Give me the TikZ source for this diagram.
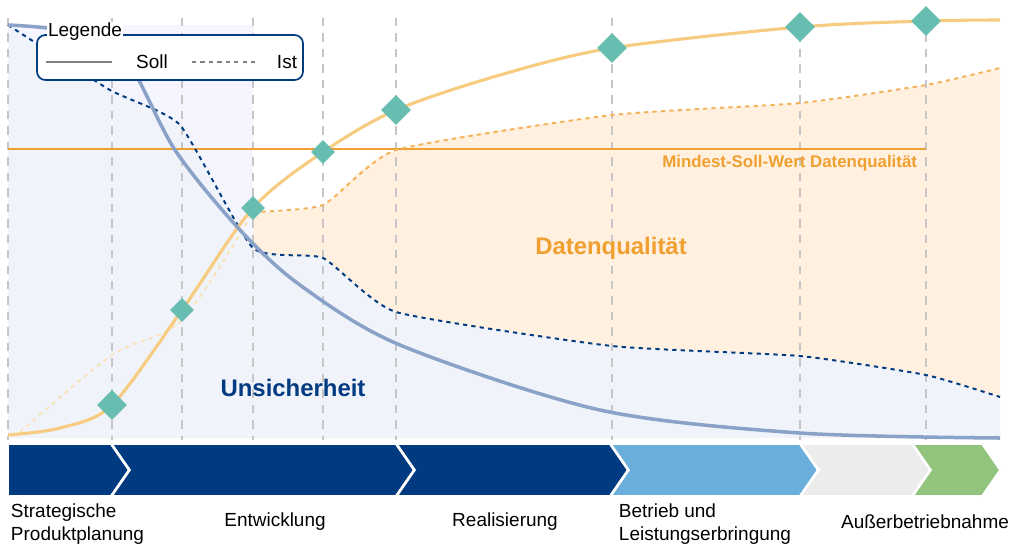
\documentclass[tikz,border=0pt]{standalone}
\usepackage{fontspec}
\setmainfont{Liberation Sans}
\usetikzlibrary{shapes.geometric,positioning}
\definecolor{dunkelblau}{HTML}{003A80}
\definecolor{sollblau}{HTML}{8AA2C8}
\definecolor{orangehell}{HTML}{F7CB80}
\definecolor{orangedunkel}{HTML}{F0A030}
\definecolor{raute}{HTML}{66BDB0}
\definecolor{hellblau}{HTML}{6AAEDC}
\definecolor{gruen}{HTML}{93C47D}

\begin{document}
\begin{tikzpicture}[
          x=0.025cm, y=-0.025cm,
          raster/.style = {gray!45, dashed, dash pattern=on 6pt off 5pt, line width=1.2pt},
          marke/.style = {diamond, fill=raute, minimum size=0.75cm, inner sep=0pt},
          phase/.style = {font=\fontsize{13.5}{16}\selectfont, align=left},
          chev/.style = {draw=white, line width=1.2pt}
        ]
        \useasboundingbox (0,0) rectangle (1024,555);

        % Flaechen
        \fill[blue!4] (8,25) -- (253,25) -- (253,438) -- (8,438) -- cycle;
        \fill[orange!12] plot[smooth] coordinates {(253,212) (323,205) (396,150) (612,115) (800,103) (926,85) (1000,68)}
          -- (1000,438) -- (253,438) -- cycle;
        \fill[green!30!blue!6] plot[smooth, tension=0.3] coordinates {(8,25) (110,90) (180,125) (253,248) (323,258) (396,312) (612,346) (800,356) (926,375) (1000,397)}
          -- (1000,438) -- (8,438) -- cycle;

        % Raster
        \foreach \x in {8,112,182,253,323,396,612,800,926}
          \draw[raster] (\x,18) -- (\x,440);

        % Mindestwert
        \draw[orangedunkel, line width=1.6pt] (8,149) -- (926,149);
        \node[font=\bfseries\fontsize{12}{14}\selectfont, text=orangedunkel, anchor=east] (mindest) at (922,163) {Mindest-Soll-Wert Datenqualität};

        % Kurven
        \draw[orangehell!60, line width=1.2pt, dashed] plot[smooth] coordinates {(20,432) (112,355) (182,320) (253,212)};
        \draw[orangedunkel!80, line width=1.4pt, dashed] plot[smooth, tension=0.3] coordinates {(253,212) (323,205) (396,150) (612,115) (800,103) (926,85) (1000,68)};
        \draw[dunkelblau, line width=1.4pt, dashed] plot[smooth, tension=0.3] coordinates {(8,25) (110,90) (180,125) (253,248) (323,258) (396,312) (612,346) (800,356) (926,375) (1000,397)};
        \draw[orangehell, line width=2.2pt] plot[smooth] coordinates {(8,435) (60,428) (112,405) (182,310) (253,208) (323,152) (396,110) (500,75) (612,48) (800,27) (926,21) (1000,20)};
        \draw[sollblau, line width=2.5pt] plot[smooth] coordinates {(8,25) (60,30) (120,50) (175,150) (240,230) (300,285) (400,345) (600,410) (800,433) (1000,438)};

        % Meilensteine
        \node[marke] (m1) at (112,405) {};
        \node[marke, minimum size=0.6cm] (m2) at (182,310) {};
        \node[marke, minimum size=0.6cm] (m3) at (253,208) {};
        \node[marke, minimum size=0.6cm] (m4) at (323,152) {};
        \node[marke] (m5) at (396,110) {};
        \node[marke] (m6) at (612,48) {};
        \node[marke] (m7) at (800,27) {};
        \node[marke] (m8) at (926,21) {};

        % Beschriftungen
        \node[font=\bfseries\fontsize{17}{20}\selectfont, text=orangedunkel] (dq) at (611,248) {Datenqualität};
        \node[font=\bfseries\fontsize{17}{20}\selectfont, text=dunkelblau] (us) at (293,388) {Unsicherheit};

        % Legende
        \draw[dunkelblau, line width=1.2pt, rounded corners=6pt, fill=white] (37,35) rectangle (303,80);
        \node[fill=white, inner sep=1pt, phase] (leg) at (85,32) {Legende};
        \draw[gray, line width=2pt] (46,62) -- (112,62);
        \node[phase] (soll) at (152,62) {Soll};
        \draw[gray, line width=1.4pt, dashed] (192,62) -- (258,62);
        \node[phase] (ist) at (287,62) {Ist};

        % Phasen
        \fill[dunkelblau, chev] (8,444) -- (111,444) -- (129,470) -- (111,496) -- (8,496) -- cycle;
        \fill[dunkelblau, chev] (112,444) -- (396,444) -- (414,470) -- (396,496) -- (112,496) -- (130,470) -- cycle;
        \fill[dunkelblau, chev] (397,444) -- (610,444) -- (628,470) -- (610,496) -- (397,496) -- (415,470) -- cycle;
        \fill[hellblau, chev] (611,444) -- (800,444) -- (818,470) -- (800,496) -- (611,496) -- (629,470) -- cycle;
        \fill[gray!15, chev] (801,444) -- (912,444) -- (930,470) -- (912,496) -- (801,496) -- (819,470) -- cycle;
        \fill[gruen, chev] (913,444) -- (982,444) -- (1000,470) -- (982,496) -- (913,496) -- (931,470) -- cycle;
        \foreach \x in {111,396,610,800,912}
          \draw[white, line width=1.5pt] (\x,444) -- (\x+18,470) -- (\x,496);

        \node[phase, anchor=west] (p1) at (6,524) {Strategische\\Produktplanung};
        \node[phase] (p2) at (275,522) {Entwicklung};
        \node[phase] (p3) at (505,522) {Realisierung};
        \node[phase, anchor=west] (p4) at (614,524) {Betrieb und\\Leistungserbringung};
        \node[phase] (p5) at (925,522) {Außerbetriebnahme};
      \end{tikzpicture}
\end{document}
